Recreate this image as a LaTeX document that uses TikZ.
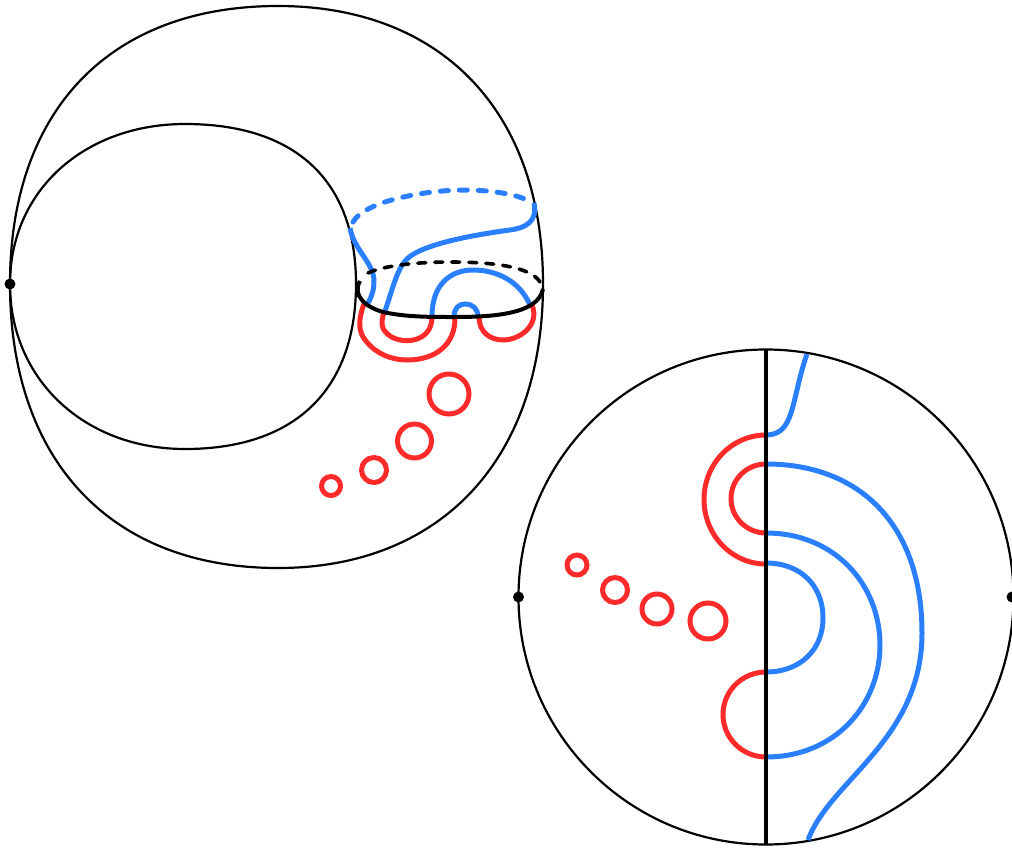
\documentclass[tikz,border=0pt]{standalone}
\usepackage{xcolor}
\definecolor{curvered}{HTML}{FF2A2A}
\definecolor{curveblue}{HTML}{2A7FFF}
\tikzset{
  surface/.style={draw=black, line width=2.2pt},
  cutline/.style={draw=black, line width=4pt},
  cutback/.style={draw=black, line width=3.6pt, dash pattern=on 8pt off 9pt, line cap=round},
  redarc/.style={draw=curvered, line width=5pt},
  bluearc/.style={draw=curveblue, line width=5pt},
  blueback/.style={draw=curveblue, line width=5pt, dash pattern=on 8pt off 11pt, line cap=round},
  basepoint/.style={fill=black, draw=none},
}
\begin{document}
\begin{tikzpicture}[x=1pt, y=-1pt]
\useasboundingbox (0,0) rectangle (1012,849);

\draw[surface] (10,284) .. controls (10,110) and (110,6) .. (278,6) .. controls (440,6) and (543,110) .. (543,284) .. controls (543,460) and (440,568) .. (278,568) .. controls (110,568) and (10,460) .. (10,284);
\draw[surface] (10,284) .. controls (10,190) and (85,124) .. (185,124) .. controls (295,124) and (356,180) .. (356,284) .. controls (356,390) and (295,449) .. (185,449) .. controls (85,449) and (10,380) .. (10,284);
\fill[basepoint] (10,284) circle (5.5);

\draw[blueback] (353,222) .. controls (365,200) and (430,190) .. (463,190) .. controls (495,190) and (520,195) .. (533,203);
\draw[bluearc] (350,228) .. controls (354,250) and (373,262) .. (374,280) .. controls (374,290) and (372,296) .. (368,303);
\draw[bluearc] (534,203) .. controls (538,222) and (525,228) .. (510,230) .. controls (480,234) and (425,243) .. (408,258) .. controls (397,268) and (393,288) .. (385,311);
\draw[bluearc] (432,316) .. controls (432,285) and (450,270) .. (473,270) .. controls (498,270) and (520,282) .. (530,305);
\draw[bluearc] (454,317) .. controls (454,308) and (459,304) .. (465,304) .. controls (473,304) and (478,309) .. (478,317);

\draw[redarc] (364,304) .. controls (358,320) and (358,332) .. (366,341) .. controls (376,354) and (392,360) .. (407,360) .. controls (435,360) and (456,345) .. (455,316);
\draw[redarc] (384,312) .. controls (380,325) and (382,330) .. (390,336) .. controls (404,345) and (432,342) .. (432,317);
\draw[redarc] (479,317) .. controls (479,332) and (490,340) .. (503,340) .. controls (520,340) and (540,325) .. (532,305);

\draw[cutback] (368,273) .. controls (385,265) and (420,262) .. (450,262) .. controls (490,262) and (530,266) .. (540,282);
\draw[cutline] (360,281) .. controls (352,295) and (365,307) .. (383,312) .. controls (405,317) and (430,317) .. (453,317) .. controls (490,317) and (538,315) .. (543,289);

\draw[redarc] (449,394) circle (20);
\draw[redarc] (414.5,441) circle (17);
\draw[redarc] (374,470) circle (12.5);
\draw[redarc] (331,486) circle (9.5);

\draw[surface] (766,597) circle (247.5);
\fill[basepoint] (518.5,597) circle (5.5);
\fill[basepoint] (1012,597) circle (5.5);

\draw[redarc] (766,435) arc[start angle=270, end angle=90, x radius=62, y radius=64.5];
\draw[redarc] (766,464) arc[start angle=270, end angle=90, x radius=35, y radius=34.5];
\draw[redarc] (766,672) arc[start angle=270, end angle=90, x radius=43, y radius=42.5];
\draw[redarc] (708,621) circle (18);
\draw[redarc] (657,609) circle (15);
\draw[redarc] (615,590) circle (12.5);
\draw[redarc] (577,565) circle (10);

\draw[bluearc] (766,435) .. controls (795,435) and (791,400) .. (807,354);
\draw[bluearc] (766,464) .. controls (860,464) and (922,525) .. (922,633) .. controls (922,740) and (830,780) .. (808,840);
\draw[bluearc] (766,533) .. controls (835,533) and (880,585) .. (880,645) .. controls (880,705) and (835,757) .. (766,757);
\draw[bluearc] (766,563) .. controls (800,563) and (823,585) .. (823,618) .. controls (823,650) and (800,672) .. (766,672);

\draw[cutline] (766,350) -- (766,845);
\end{tikzpicture}
\end{document}
